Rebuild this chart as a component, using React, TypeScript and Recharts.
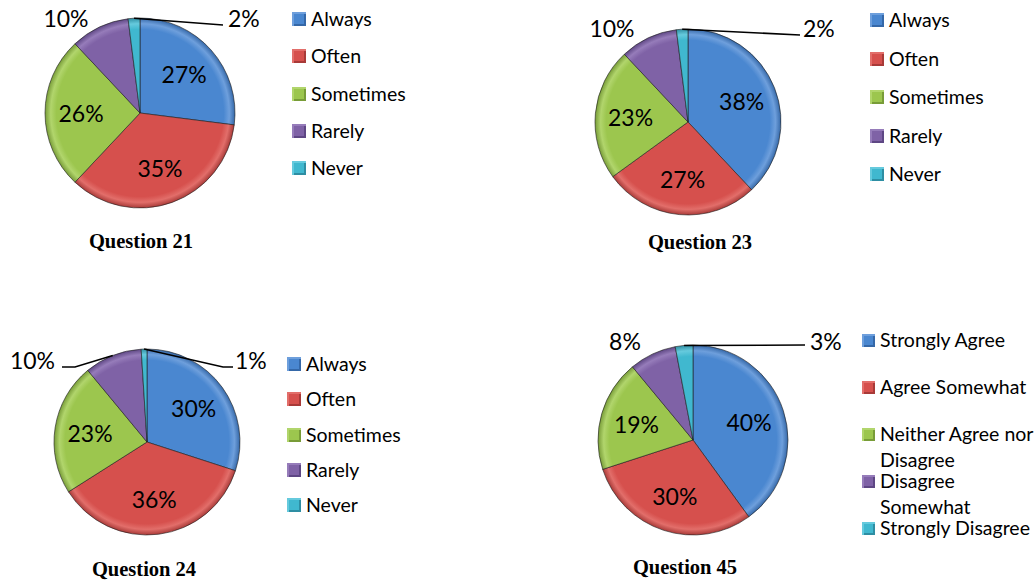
import { PieChart, Pie, Cell } from "recharts";

// survey answers, in percent, clockwise from 12 o'clock
const frequencyNames = ["Always", "Often", "Sometimes", "Rarely", "Never"];
const agreeNames = [
  "Strongly Agree",
  "Agree Somewhat",
  "Neither Agree nor Disagree",
  "Disagree Somewhat",
  "Strongly Disagree",
];
const agreeLegendLines = [
  ["Strongly Agree"],
  ["Agree Somewhat"],
  ["Neither Agree nor", "Disagree"],
  ["Disagree", "Somewhat"],
  ["Strongly Disagree"],
];

const q21Values = [27, 35, 26, 10, 2];
const q23Values = [38, 27, 23, 10, 2];
const q24Values = [30, 36, 23, 10, 1];
const q45Values = [40, 30, 19, 8, 3];

const COLORS = [
  { base: "#4a87d0", light: "#6e9fdc", dark: "#3568a8" },
  { base: "#d6504d", light: "#e26e6a", dark: "#a83a38" },
  { base: "#9cc64e", light: "#b1d56c", dark: "#789c38" },
  { base: "#7f62a6", light: "#967cba", dark: "#5e4784" },
  { base: "#40b8cf", light: "#66cadd", dark: "#2e8ea3" },
];

type Outside = {
  tx: number;
  ty: number;
  anchor: "start" | "middle" | "end";
  line?: Array<[number, number]>;
};

type Panel = {
  id: string;
  title: string;
  names: string[];
  values: number[];
  cx: number;
  cy: number;
  r: number;
  titleX: number;
  titleY: number;
  legendX: number;
  legendY: number;
  legendStep: number;
  markerSize: number;
  legendLines?: string[][];
  outside: Record<number, Outside>;
};

const panels: Panel[] = [
  {
    id: "q21",
    title: "Question 21",
    names: frequencyNames,
    values: q21Values,
    cx: 140,
    cy: 113,
    r: 95,
    titleX: 141,
    titleY: 241,
    legendX: 292,
    legendY: 19,
    legendStep: 37.3,
    markerSize: 14,
    outside: {
      3: { tx: -74, ty: -95, anchor: "middle" },
      4: { tx: 88, ty: -95, anchor: "start", line: [[83, -88]] },
    },
  },
  {
    id: "q23",
    title: "Question 23",
    names: frequencyNames,
    values: q23Values,
    cx: 688,
    cy: 122,
    r: 93,
    titleX: 700,
    titleY: 242,
    legendX: 870,
    legendY: 20,
    legendStep: 38.5,
    markerSize: 14,
    outside: {
      3: { tx: -76, ty: -94, anchor: "middle" },
      4: { tx: 115, ty: -94, anchor: "start", line: [[112, -87]] },
    },
  },
  {
    id: "q24",
    title: "Question 24",
    names: frequencyNames,
    values: q24Values,
    cx: 147,
    cy: 442,
    r: 93,
    titleX: 144,
    titleY: 569,
    legendX: 287,
    legendY: 364,
    legendStep: 35.3,
    markerSize: 14,
    outside: {
      3: { tx: -92, ty: -82, anchor: "end", line: [[-72, -75], [-85, -75]] },
      4: { tx: 88, ty: -82, anchor: "start", line: [[76, -75], [86, -75]] },
    },
  },
  {
    id: "q45",
    title: "Question 45",
    names: agreeNames,
    values: q45Values,
    cx: 693,
    cy: 440,
    r: 95,
    titleX: 685,
    titleY: 567,
    legendX: 862,
    legendY: 340,
    legendStep: 47,
    markerSize: 13,
    legendLines: agreeLegendLines,
    outside: {
      3: { tx: -68, ty: -99, anchor: "middle" },
      4: { tx: 117, ty: -99, anchor: "start", line: [[112, -95]] },
    },
  },
];

const RAD = Math.PI / 180;
const LABEL_FONT = "Lato, 'Open Sans', sans-serif";

function makeLabel(panel: Panel) {
  return (props: any) => {
    const { cx, cy, midAngle, outerRadius, index } = props;
    const text = `${panel.values[index]}%`;
    const out = panel.outside[index];
    if (!out) {
      const rr = outerRadius * 0.62;
      const x = cx + rr * Math.cos(-midAngle * RAD);
      const y = cy + rr * Math.sin(-midAngle * RAD);
      return (
        <text
          x={x}
          y={y}
          fill="#000"
          textAnchor="middle"
          dominantBaseline="central"
          fontSize={23}
          fontFamily={LABEL_FONT}
        >
          {text}
        </text>
      );
    }
    const sx = cx + outerRadius * Math.cos(-midAngle * RAD);
    const sy = cy + outerRadius * Math.sin(-midAngle * RAD);
    const pts = out.line
      ? [[sx, sy], ...out.line.map(([dx, dy]) => [cx + dx, cy + dy])]
      : [];
    return (
      <g>
        {pts.length > 0 && (
          <polyline
            points={pts.map((p) => p.join(",")).join(" ")}
            fill="none"
            stroke="#000"
            strokeWidth={1.5}
          />
        )}
        <text
          x={cx + out.tx}
          y={cy + out.ty}
          fill="#000"
          textAnchor={out.anchor}
          dominantBaseline="central"
          fontSize={23}
          fontFamily={LABEL_FONT}
        >
          {text}
        </text>
      </g>
    );
  };
}

function Legend({ panel }: { panel: Panel }) {
  const lines = panel.legendLines ?? panel.names.map((n) => [n]);
  return (
    <>
      {lines.map((ls, i) => (
        <div
          key={i}
          style={{
            position: "absolute",
            left: panel.legendX,
            top: panel.legendY + i * panel.legendStep - 13,
            display: "flex",
            alignItems: "flex-start",
            fontFamily: LABEL_FONT,
            fontSize: 19.5,
            lineHeight: "26px",
            color: "#000",
            whiteSpace: "nowrap",
          }}
        >
          <div
            style={{
              width: panel.markerSize,
              height: panel.markerSize,
              marginTop: (26 - panel.markerSize) / 2,
              marginRight: 5,
              boxSizing: "border-box",
              background: COLORS[i].base,
              boxShadow: `inset 2px 2px 0 ${COLORS[i].light}, inset -2px -2px 0 ${COLORS[i].dark}`,
            }}
          />
          <div>
            {ls.map((l, j) => (
              <div key={j}>{l}</div>
            ))}
          </div>
        </div>
      ))}
    </>
  );
}

export default function App() {
  return (
    <div
      style={{
        position: "absolute",
        left: 0,
        top: 0,
        width: 1035,
        height: 582,
        background: "#fff",
        overflow: "hidden",
      }}
    >
      <PieChart
        width={1035}
        height={582}
        margin={{ top: 0, right: 0, bottom: 0, left: 0 }}
      >
        <defs>
          {panels.map((p) =>
            COLORS.map((c, j) => (
              <radialGradient
                key={`${p.id}-${j}`}
                id={`g-${p.id}-${j}`}
                gradientUnits="userSpaceOnUse"
                cx={p.cx}
                cy={p.cy}
                r={p.r}
              >
                <stop offset="0%" stopColor={c.base} />
                <stop offset="88%" stopColor={c.base} />
                <stop offset="94%" stopColor={c.light} />
                <stop offset="100%" stopColor={c.dark} />
              </radialGradient>
            ))
          )}
        </defs>
        {panels.map((p) => (
          <Pie
            key={p.id}
            data={p.names.map((name, i) => ({ name, value: p.values[i] }))}
            dataKey="value"
            nameKey="name"
            cx={p.cx}
            cy={p.cy}
            outerRadius={p.r}
            startAngle={90}
            endAngle={-270}
            label={makeLabel(p)}
            labelLine={false}
            stroke="rgba(30,30,30,0.6)"
            strokeWidth={1}
            isAnimationActive={false}
          >
            {p.values.map((_, i) => (
              <Cell key={i} fill={`url(#g-${p.id}-${i})`} />
            ))}
          </Pie>
        ))}
      </PieChart>
      {panels.map((p) => (
        <Legend key={p.id} panel={p} />
      ))}
      {panels.map((p) => (
        <div
          key={`t-${p.id}`}
          style={{
            position: "absolute",
            left: p.titleX - 80,
            width: 160,
            top: p.titleY - 13,
            textAlign: "center",
            fontFamily: "'Liberation Serif', 'Times New Roman', serif",
            fontWeight: "bold",
            fontSize: 20.5,
            lineHeight: "26px",
            color: "#000",
          }}
        >
          {p.title}
        </div>
      ))}
    </div>
  );
}
